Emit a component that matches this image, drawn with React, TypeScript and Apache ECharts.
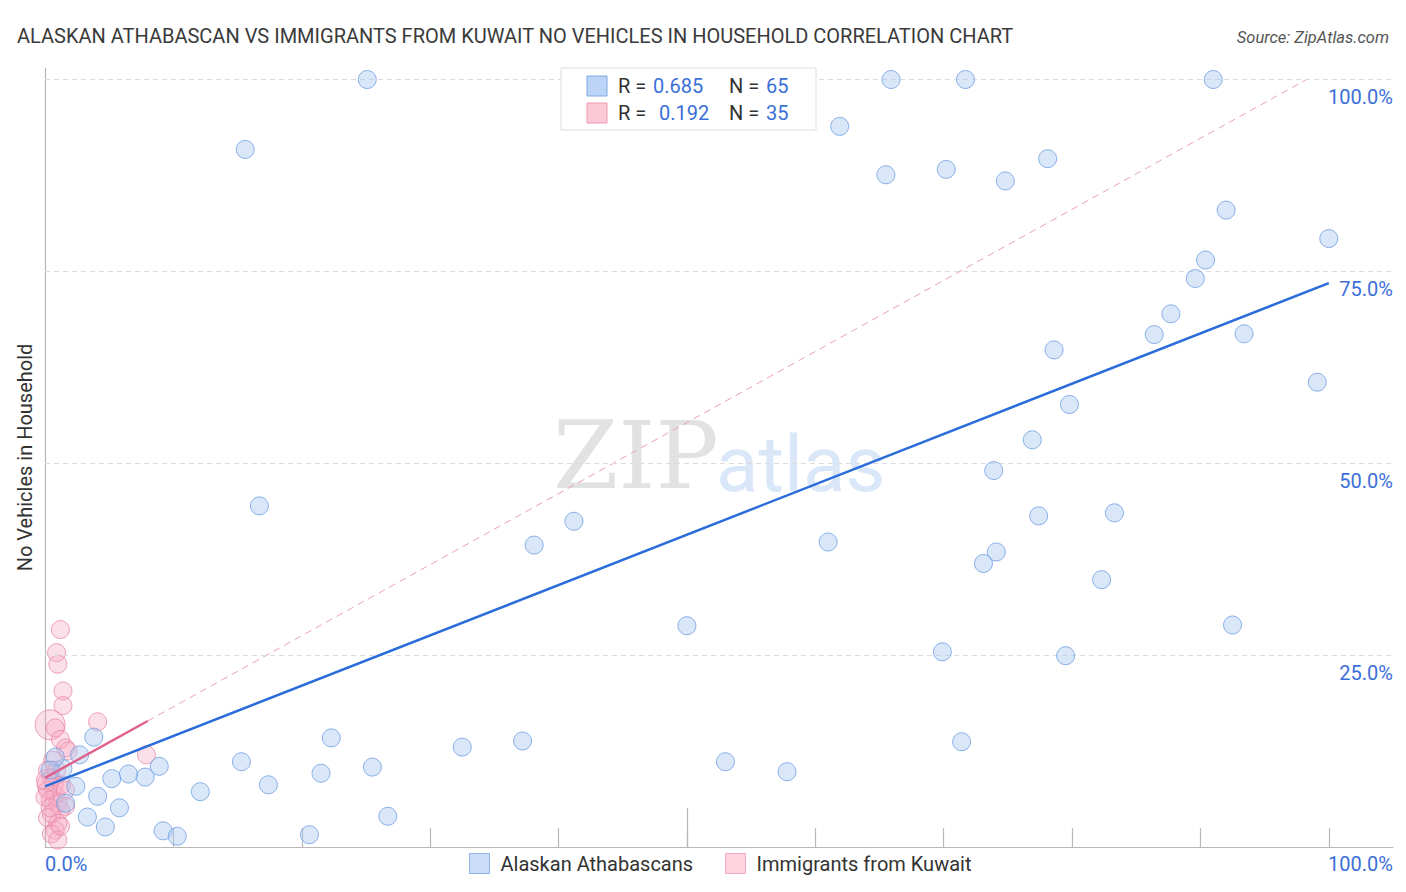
import React, { useEffect, useRef } from "react";
import * as echarts from "echarts";

const blueX = [25.1, 65.9, 71.7, 91.0, 15.6, 61.9, 65.5, 70.2, 74.8, 78.1, 92.0, 100.0, 90.4, 89.6, 87.7, 86.4, 93.4, 78.6, 99.1, 79.8, 76.9, 73.9, 16.7, 41.2, 38.1, 61.0, 77.4, 83.3, 74.1, 73.1, 82.3, 50.0, 92.5, 69.9, 79.5, 71.4, 53.0, 57.8, 32.5, 37.2, 22.3, 25.5, 21.5, 15.3, 17.4, 12.1, 8.9, 7.8, 6.5, 5.2, 3.8, 2.7, 2.4, 4.1, 5.8, 3.3, 4.7, 9.2, 10.3, 20.6, 26.7, 1.6, 1.4, 0.8, 0.4];
const blueY = [99.9, 99.9, 99.9, 99.9, 90.8, 93.8, 87.5, 88.2, 86.7, 89.6, 82.9, 79.2, 76.4, 74.0, 69.4, 66.7, 66.8, 64.7, 60.5, 57.6, 53.0, 49.0, 44.4, 42.4, 39.3, 39.7, 43.1, 43.5, 38.4, 36.9, 34.8, 28.8, 28.9, 25.4, 24.9, 13.7, 11.1, 9.8, 13.0, 13.8, 14.2, 10.4, 9.6, 11.1, 8.1, 7.2, 10.5, 9.1, 9.5, 8.9, 14.3, 12.0, 7.9, 6.6, 5.1, 3.9, 2.6, 2.1, 1.4, 1.6, 4.0, 5.7, 10.2, 11.7, 10.0];

const pinkX = [1.2, 0.9, 1.0, 1.4, 1.4, 4.1, 7.9, 0.4, 0.8, 1.2, 1.6, 1.8, 0.6, 0.2, 0.5, 0.4, 0.2, 0.8, 0.4, 1.0, 1.6, 1.2, 0.5, 0.2, 1.0, 0.8, 0.5, 1.0, 0.2, 1.3, 0.9, 0.0, 1.6, 0.4, 1.2];
const pinkY = [28.3, 25.3, 23.8, 20.3, 18.4, 16.3, 12.0, 15.9, 15.5, 14.0, 12.9, 12.5, 11.3, 10.0, 9.0, 8.1, 7.4, 6.8, 6.1, 5.7, 5.3, 4.8, 4.3, 3.8, 3.1, 2.2, 1.7, 0.9, 8.7, 8.1, 10.0, 6.5, 7.4, 5.1, 2.7];
const pinkSize = [18, 18, 18, 18, 18, 18, 18, 30, 18, 18, 18, 18, 18, 18, 18, 26, 18, 18, 18, 18, 18, 18, 18, 18, 18, 18, 18, 18, 22, 18, 18, 18, 18, 18, 18];

// regression lines
const blueIntercept = 7.9;
const blueEndY = 73.4;
const blueXRange = [0, 100];
const pinkIntercept = 9.0;
const pinkSlope = 0.925;
const pinkSolidEnd = 8;

const yTicks = [25, 50, 75, 100];
const xTicks = [10, 20, 30, 40, 50, 60, 70, 80, 90, 100];

const seriesNames = ["Alaskan Athabascans", "Immigrants from Kuwait"];
const statR = ["0.685", "0.192"];
const statN = ["65", "35"];

const BLUE_FILL = "rgba(170,200,242,0.55)";
const BLUE_BORDER = "#6f9de3";
const PINK_FILL = "rgba(246,170,195,0.45)";
const PINK_BORDER = "#e98aa8";
const LABEL_BLUE = "#3a6fd8";
const FONT = "Roboto, 'Noto Sans', sans-serif";

export default function App() {
  const ref = useRef<HTMLDivElement>(null);
  useEffect(() => {
    if (!ref.current) return;
    const chart = echarts.init(ref.current, null, { renderer: "svg" });
    const blueData = blueX.map((x, i) => [x, blueY[i]]);
    const pinkData = pinkX.map((x, i) => [x, pinkY[i], pinkSize[i]]);
    const blueSlope = (blueEndY - blueIntercept) / (blueXRange[1] - blueXRange[0]);
    const blueLine = blueXRange.map((x) => [x, blueIntercept + blueSlope * x]);
    const pinkSolid = [0, pinkSolidEnd].map((x) => [x, pinkIntercept + pinkSlope * x]);
    const pinkDashEnd = (100 - pinkIntercept) / pinkSlope;
    const pinkDash = [pinkSolidEnd, pinkDashEnd].map((x) => [x, pinkIntercept + pinkSlope * x]);

    const option: any = {
      animation: false,
      backgroundColor: "#fff",
      textStyle: { fontFamily: FONT },
      title: [
        {
          text: "ALASKAN ATHABASCAN VS IMMIGRANTS FROM KUWAIT NO VEHICLES IN HOUSEHOLD CORRELATION CHART",
          left: 12,
          top: 21,
          textStyle: { fontSize: 20, fontWeight: "normal", color: "#3a3a3a", fontFamily: FONT },
        },
        {
          text: "Source: ZipAtlas.com",
          right: 12,
          top: 24,
          textStyle: { fontSize: 16.5, fontWeight: "normal", fontStyle: "italic", color: "#555", fontFamily: FONT },
        },
      ],
      grid: { left: 45, right: 13, top: 68, bottom: 45, containLabel: false },
      xAxis: [
        {
          type: "value",
          min: 0,
          max: 105,
          axisLine: { show: true, lineStyle: { color: "#b8b8b8", width: 1.2 } },
          axisTick: { show: true, inside: true, length: 19, customValues: xTicks, lineStyle: { color: "#b8b8b8", width: 1.2 } },
          axisLabel: {
            show: true,
            customValues: [0, 105],
            formatter: (v: number) => (v === 0 ? "0.0%" : "100.0%"),
            color: LABEL_BLUE,
            fontSize: 20,
            margin: 7,
            alignMinLabel: "left",
            alignMaxLabel: "right",
          },
          splitLine: { show: false },
        },
        {
          type: "value",
          min: 0,
          max: 105,
          position: "bottom",
          axisLine: { show: false },
          axisTick: { show: true, inside: true, length: 39, customValues: [50], lineStyle: { color: "#b8b8b8", width: 1.2 } },
          axisLabel: { show: false },
          splitLine: { show: false },
        },
      ],
      yAxis: [
        {
          type: "value",
          min: 0,
          max: 101.4,
          position: "left",
          axisLine: { show: true, lineStyle: { color: "#b8b8b8", width: 1.2 } },
          axisTick: { show: false },
          axisLabel: { show: false },
          splitLine: { show: false },
          name: "No Vehicles in Household",
          nameLocation: "middle",
          nameGap: 10,
          nameTextStyle: { fontSize: 20, color: "#333", fontFamily: FONT },
        },
        {
          type: "value",
          min: 0,
          max: 101.4,
          position: "right",
          axisLine: { show: false },
          axisTick: { show: false },
          splitLine: { show: false },
          axisLabel: {
            show: true,
            inside: true,
            customValues: yTicks,
            formatter: (v: number) => v.toFixed(1) + "%",
            color: LABEL_BLUE,
            fontSize: 20,
            align: "right",
            verticalAlign: "top",
            padding: [8, 0, 0, 0],
            margin: 0,
          },
        },
      ],
      legend: {
        bottom: 13,
        left: 464,
        itemWidth: 20,
        itemHeight: 20,
        itemGap: 32,
        icon: "rect",
        textStyle: { fontSize: 20, color: "#333", fontFamily: FONT, padding: [0, 0, 0, 6] },
        data: [
          { name: seriesNames[0], itemStyle: { color: "#bcd5f6", borderColor: "#7ea8e6", borderWidth: 1 } },
          { name: seriesNames[1], itemStyle: { color: "#fbc8d6", borderColor: "#ec9ab2", borderWidth: 1 } },
        ],
      },
      series: [
        {
          name: "grid",
          type: "line",
          data: [],
          silent: true,
          markLine: {
            silent: true,
            symbol: "none",
            label: { show: false },
            lineStyle: { color: "#dcdcdc", type: [5, 4], width: 1 },
            data: yTicks.map((v) => ({ yAxis: v })),
          },
        },
        {
          name: "pinkDash",
          type: "line",
          data: pinkDash,
          symbol: "none",
          lineStyle: { color: "#e8a0b6", width: 1, type: [7, 5] },
          z: 3,
        },
        {
          name: seriesNames[1],
          type: "scatter",
          data: pinkData,
          symbolSize: (d: number[]) => d[2],
          itemStyle: { color: PINK_FILL, borderColor: PINK_BORDER, borderWidth: 1 },
          z: 4,
        },
        {
          name: seriesNames[0],
          type: "scatter",
          data: blueData,
          symbolSize: 18,
          itemStyle: { color: BLUE_FILL, borderColor: BLUE_BORDER, borderWidth: 1 },
          z: 5,
        },
        {
          name: "pinkTrend",
          type: "line",
          data: pinkSolid,
          symbol: "none",
          lineStyle: { color: "#e0628c", width: 2.5 },
          z: 6,
        },
        {
          name: "blueTrend",
          type: "line",
          data: blueLine,
          symbol: "none",
          lineStyle: { color: "#2a6dd9", width: 2.5 },
          z: 7,
        },
      ],
      graphic: [
        {
          type: "text",
          left: 553,
          top: 408,
          z: 0,
          style: { text: "ZIP", font: "94px 'DejaVu Serif', 'Liberation Serif', serif", fill: "rgba(190,190,190,0.45)" },
        },
        {
          type: "text",
          left: 716,
          top: 425,
          z: 0,
          style: { text: "atlas", font: "78px Roboto, sans-serif", fill: "rgba(160,195,238,0.4)" },
        },
        {
          type: "rect",
          shape: { x: 561, y: 68, width: 255, height: 62 },
          style: { fill: "#fff", stroke: "#dddddd", lineWidth: 1 },
          z: 10,
        },
        {
          type: "rect",
          shape: { x: 587, y: 76, width: 20, height: 20 },
          style: { fill: "#bcd5f6", stroke: "#7ea8e6", lineWidth: 1 },
          z: 11,
        },
        {
          type: "rect",
          shape: { x: 587, y: 103, width: 20, height: 20 },
          style: { fill: "#fbc8d6", stroke: "#ec9ab2", lineWidth: 1 },
          z: 11,
        },
        ...[0, 1].flatMap((i) => {
          const cy = 86 + i * 27;
          const f = "20px Roboto, 'Noto Sans', sans-serif";
          return [
            { type: "text", x: 618, y: cy, z: 11, style: { text: "R = ", font: f, fill: "#333", verticalAlign: "middle" } },
            { type: "text", x: i === 0 ? 653 : 659, y: cy, z: 11, style: { text: statR[i], font: f, fill: LABEL_BLUE, verticalAlign: "middle" } },
            { type: "text", x: 729, y: cy, z: 11, style: { text: "N = ", font: f, fill: "#333", verticalAlign: "middle" } },
            { type: "text", x: 766, y: cy, z: 11, style: { text: statN[i], font: f, fill: LABEL_BLUE, verticalAlign: "middle" } },
          ];
        }),
      ],
    };
    chart.setOption(option);
    return () => chart.dispose();
  }, []);
  return <div ref={ref} style={{ width: 1406, height: 892, margin: -8 }} />;
}
